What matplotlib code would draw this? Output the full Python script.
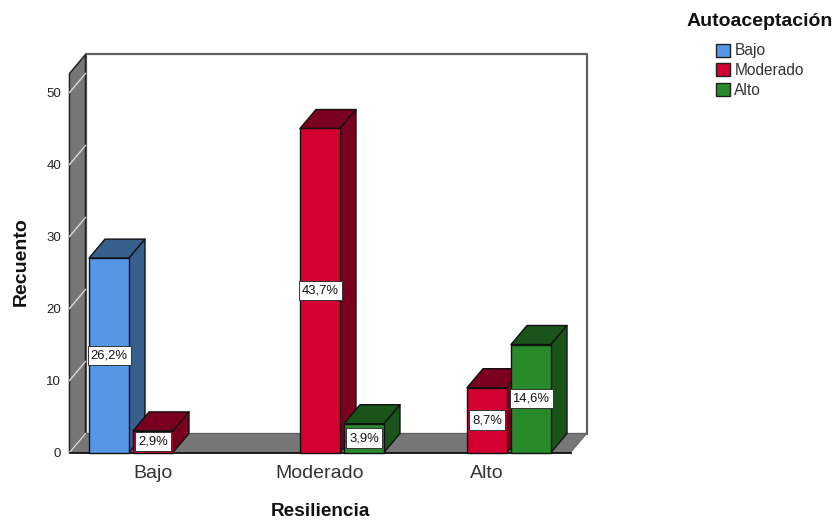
import matplotlib
matplotlib.use('Agg')
from matplotlib import pyplot as plt
from matplotlib.patches import Polygon, Patch, Rectangle

plt.rcParams['font.family'] = ['Liberation Sans', 'DejaVu Sans']

categories = ['Bajo', 'Moderado', 'Alto']
series = ['Bajo', 'Moderado', 'Alto']
counts_bajo = [27, 0, 0]
counts_moderado = [3, 45, 9]
counts_alto = [0, 4, 15]
total = 103
yticks = [0, 10, 20, 30, 40, 50]

front_colors = ['#5596E6', '#D50032', '#298A2B']
side_colors = ['#38608F', '#7A0020', '#1A541B']

W, H = 835, 525
fig = plt.figure(figsize=(W / 100, H / 100), dpi=100, facecolor='white')
ax = fig.add_axes([69.5 / W, (H - 452.5) / H, 501 / W, 379 / H])
ax.set_xlim(-0.5, 2.5)
ax.set_ylim(0, 379 / 7.2)

# depth of the fake 3d box, in data units
dx = 16 / 167
dy = 19 / 7.2
y_top = 379 / 7.2
x0, x1 = -0.5, 2.5

def poly(pts, fc, ec='#111111', lw=1.0, z=1):
    ax.add_patch(Polygon(pts, closed=True, facecolor=fc, edgecolor=ec, linewidth=lw,
                         zorder=z, clip_on=False, joinstyle='round'))

# back wall, left wall and floor
poly([(x0 + dx, dy), (x1 + dx, dy), (x1 + dx, y_top + dy), (x0 + dx, y_top + dy)],
     'white', ec='#606060', lw=1.6, z=1)
poly([(x0, 0), (x0 + dx, dy), (x0 + dx, y_top + dy), (x0, y_top)], '#777777', ec='#222222', lw=1.1, z=2)
poly([(x0, 0), (x0 + dx, dy), (x1 + dx, dy), (x1, 0)], '#777777', ec='#606060', lw=0.8, z=2)

for t in yticks:
    ax.plot([x0, x0 + dx], [t, t + dy], color='#d8d8d8', lw=1.0, zorder=3, clip_on=False)
ax.plot([x0, x1], [0, 0], color='#111111', lw=1.3, zorder=4, clip_on=False)

slot = 44 / 167
bar_w = 40 / 167
z = 5
labels = []
for g in range(len(categories)):
    for s, vals in enumerate([counts_bajo, counts_moderado, counts_alto]):
        v = vals[g]
        if v == 0:
            continue
        left = g + (s - 1) * slot - bar_w / 2
        right = left + bar_w
        # top and side faces first, then the front
        poly([(left, v), (left + dx, v + dy), (right + dx, v + dy), (right, v)], side_colors[s], z=z)
        poly([(right, 0), (right + dx, dy), (right + dx, v + dy), (right, v)], side_colors[s], z=z)
        poly([(left, 0), (left, v), (right, v), (right, 0)], front_colors[s], z=z + 0.1)
        z += 1
        labels.append((left + bar_w / 2, v / 2, v))

# white boxes sized from the rendered text, a fixed height tall
renderer = fig.canvas.get_renderer()
box_h = 19.5 / 7.2
for x, y, v in labels:
    txt = f'{100 * v / total:.1f}%'.replace('.', ',')
    t = ax.text(x, y, txt, ha='center', va='center', fontsize=9.4, color='#111111', zorder=51)
    ext = t.get_window_extent(renderer)
    box_w = (ext.width + 6) / 167
    ax.add_patch(Rectangle((x - box_w / 2, y - box_h / 2), box_w, box_h, facecolor='white',
                           edgecolor='#333333', linewidth=0.7, zorder=50, clip_on=False))

for side in ax.spines.values():
    side.set_visible(False)
ax.set_xticks(range(len(categories)))
ax.set_xticklabels(categories, fontsize=14, color='#333333')
ax.set_yticks(yticks)
ax.set_yticklabels(yticks, fontsize=9.5, color='#222222')
ax.tick_params(axis='x', length=0, pad=9)
ax.tick_params(axis='y', length=0, pad=6)

fig.text(320.5 / W, 1 - 511 / H, 'Resiliencia', ha='center', va='center', fontsize=13.7,
         fontweight='bold', color='#111111')
fig.text(21.5 / W, 1 - 262 / H, 'Recuento', ha='center', va='center', rotation=90, fontsize=14,
         fontweight='bold', color='#111111')
fig.text(759.5 / W, 1 - 22 / H, 'Autoaceptación', ha='center', va='center', fontsize=14,
         fontweight='bold', color='#111111')

handles = [Patch(facecolor=c, edgecolor='#222222', linewidth=1.0) for c in front_colors]
fig.legend(handles, series, loc='upper left', bbox_to_anchor=(716 / W, 1 - 43.5 / H), frameon=False,
           fontsize=11.2, labelcolor='#333333', handlelength=0.92, handleheight=0.92,
           handletextpad=0.26, labelspacing=0.3, borderpad=0, borderaxespad=0)

fig.savefig('out.png', dpi=100)
